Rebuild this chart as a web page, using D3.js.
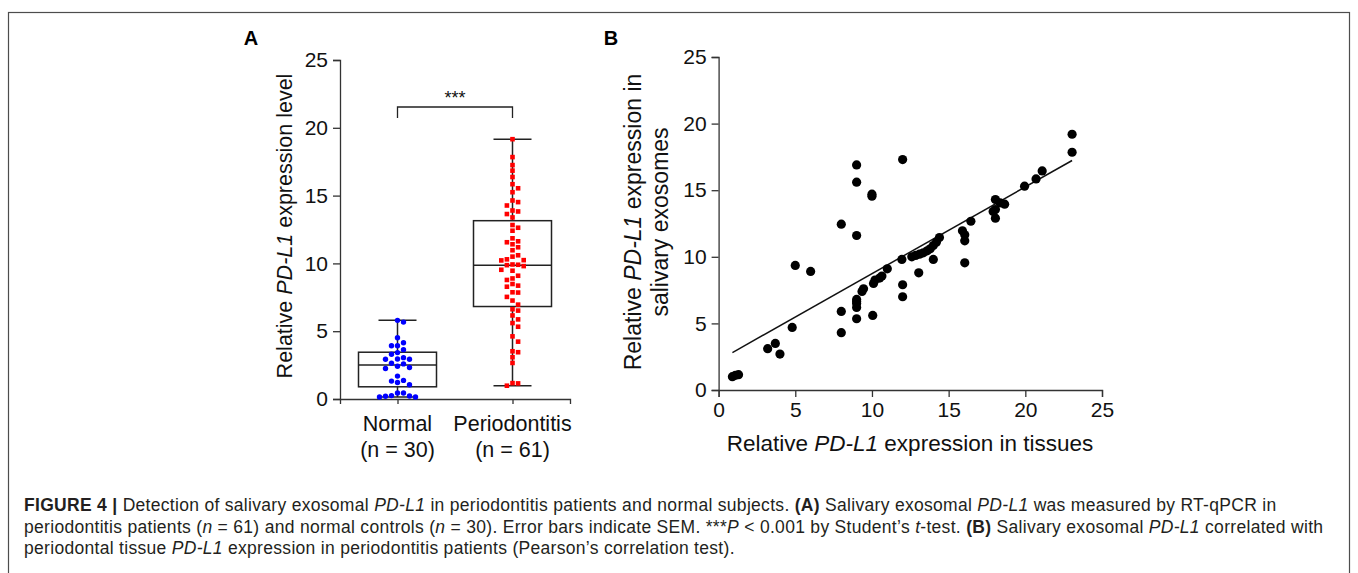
<!DOCTYPE html>
<html lang="en">
<head>
<meta charset="utf-8">
<script src="https://cdn.jsdelivr.net/npm/d3@7"></script>
<style>
  body { margin: 0; background: #fff; }
  text { font-family: "Liberation Sans", Arial, sans-serif; }
</style>
</head>
<body>
<script>
    var w = 1358, h = 573;

    // panel A: salivary exosomal PD-L1, box + points
    var groups = ['Normal', 'Periodontitis'];
    var groupN = ['(n = 30)', '(n = 61)'];
    var normalVals = [5.8, 5.67, 4.52, 4.15, 3.93, 3.93, 3.64, 3.42, 3.3, 3.05, 2.95, 2.93, 2.93,
        2.64, 2.59, 2.42, 2.32, 2.25, 1.69, 1.37, 1.32, 1.22, 1.05, 0.44, 0.44, 0.25, 0.22, 0.15, 0.15, 0.2];
    var perioVals = [19.16, 17.84, 17.25, 16.84, 16.37, 15.84, 15.54, 15.25, 14.64, 14.52, 14.27,
        13.9, 13.83, 13.64, 13.39, 12.83, 12.63, 12.41, 11.85, 11.63, 11.56, 11.41, 11.19, 10.97,
        10.6, 10.5, 10.3, 10.24, 10.22, 9.92, 9.87, 9.8, 9.9, 9.53, 9.46, 9.09, 8.89, 8.78, 8.48,
        8.36, 8.28, 7.87, 7.85, 7.53, 7.26, 6.96, 6.62, 6.52, 6.16, 5.87, 5.6, 5.33, 4.62, 4.23,
        3.52, 3.45, 3.08, 2.66, 1.17, 1.15, 0.98];
    // min, q1, median, q3, max
    var normalBox = [0.15, 0.9, 2.5, 3.45, 5.8];
    var perioBox = [0.98, 6.82, 9.87, 13.15, 19.16];
    var yTicksA = [0, 5, 10, 15, 20, 25];

    // panel B: tissue vs saliva
    var tissue = [0.9, 1.1, 1.3, 3.2, 3.7, 4.0, 4.8, 5.0, 6.0,
        8.0, 8.0, 8.0,
        9.0, 9.0, 9.0, 9.0, 9.0, 9.0, 9.0, 9.0, 9.35, 9.45,
        10.0, 10.0, 10.05, 10.1, 10.2, 10.5, 10.65, 11.0,
        12.0, 11.95, 12.0, 12.0,
        12.6, 12.85, 13.1, 13.35, 13.6, 13.8, 14.0, 14.2, 14.4, 14.0, 13.05,
        15.9, 16.05, 16.05, 16.05, 16.45,
        17.9, 18.05, 18.05, 18.05, 18.35, 18.65,
        19.95, 20.7, 21.1, 23.05, 23.05];
    var saliva = [1.0, 1.1, 1.15, 3.1, 3.5, 2.7, 4.7, 9.35, 8.9,
        12.45, 5.9, 4.3,
        16.9, 15.6, 11.6, 5.35, 6.2, 6.5, 6.65, 6.8, 7.4, 7.6,
        14.7, 14.55, 5.6, 8.0, 8.25, 8.4, 8.55, 9.1,
        17.3, 9.8, 7.9, 7.0,
        10.0, 10.1, 10.2, 10.3, 10.45, 10.6, 10.85, 11.1, 11.45, 9.8, 8.8,
        11.95, 11.65, 11.2, 9.55, 12.67,
        13.4, 13.55, 12.9, 14.3, 14.05, 13.95,
        15.3, 15.85, 16.45, 19.2, 17.85];
    var ticksB = [0, 5, 10, 15, 20, 25];

    var svg = d3.select('body').append('svg').attr('width', w).attr('height', h);

    svg.append('rect')
        .attr('x', 8.5).attr('y', 12.5).attr('width', 1341).attr('height', 600)
        .attr('fill', 'none').attr('stroke', '#4d4d4d').attr('stroke-width', 1.2);

    var axisColor = '#333';
    var axisFont = '21px';

    // ---------- panel A ----------
    var yA = d3.scaleLinear().domain([0, 25]).range([399, 60]);
    var xA = d3.scalePoint().domain(groups).range([340, 570]).padding(0.5);

    var gyA = svg.append('g').attr('transform', 'translate(340,0)')
        .call(d3.axisLeft(yA).tickValues(yTicksA).tickSize(7).tickPadding(5));
    var gxA = svg.append('g').attr('transform', 'translate(0,399)')
        .call(d3.axisBottom(xA).tickSize(5).tickFormat(''));
    [gyA, gxA].forEach(function(g) {
        g.select('.domain').attr('stroke', axisColor).attr('stroke-width', 1.3);
        g.selectAll('.tick line').attr('stroke', axisColor).attr('stroke-width', 1.3);
    });
    gyA.selectAll('.tick text').attr('font-size', axisFont).attr('fill', '#111')
        .attr('font-family', '"Liberation Sans", Arial, sans-serif');

    groups.forEach(function(g, i) {
        svg.append('text').attr('x', xA(g)).attr('y', 431).attr('text-anchor', 'middle')
            .attr('font-size', '21.5px').attr('fill', '#111').text(g);
        svg.append('text').attr('x', xA(g)).attr('y', 457).attr('text-anchor', 'middle')
            .attr('font-size', '21.5px').attr('fill', '#111').text(groupN[i]);
    });

    var titleA = svg.append('text')
        .attr('transform', 'translate(292,226) rotate(-90)')
        .attr('text-anchor', 'middle').attr('font-size', '21.5px').attr('fill', '#111');
    titleA.append('tspan').text('Relative ');
    titleA.append('tspan').attr('font-style', 'italic').text('PD-L1');
    titleA.append('tspan').text(' expression level');

    svg.append('text').attr('x', 251).attr('y', 45).attr('text-anchor', 'middle')
        .attr('font-size', '20px').attr('font-weight', 'bold').text('A');

    function drawBox(stats, cx) {
        var g = svg.append('g').attr('stroke', '#222').attr('stroke-width', 1.5).attr('fill', 'none');
        var bw = 78, cw = 38;
        g.append('line').attr('x1', cx).attr('x2', cx).attr('y1', yA(stats[0])).attr('y2', yA(stats[1]));
        g.append('line').attr('x1', cx).attr('x2', cx).attr('y1', yA(stats[3])).attr('y2', yA(stats[4]));
        g.append('line').attr('x1', cx - cw / 2).attr('x2', cx + cw / 2).attr('y1', yA(stats[0])).attr('y2', yA(stats[0]));
        g.append('line').attr('x1', cx - cw / 2).attr('x2', cx + cw / 2).attr('y1', yA(stats[4])).attr('y2', yA(stats[4]));
        g.append('rect').attr('x', cx - bw / 2).attr('width', bw)
            .attr('y', yA(stats[3])).attr('height', yA(stats[1]) - yA(stats[3]));
        g.append('line').attr('x1', cx - bw / 2).attr('x2', cx + bw / 2).attr('y1', yA(stats[2])).attr('y2', yA(stats[2]));
    }
    drawBox(normalBox, xA('Normal'));
    drawBox(perioBox, xA('Periodontitis'));

    // simple beeswarm so that points don't sit on top of each other
    function swarm(vals, cx, gap) {
        var placed = [];
        vals.slice().sort(function(a, b) { return b - a; }).forEach(function(v) {
            var y = yA(v);
            var offs = [0];
            for (var k = 1; k < 10; k++) { offs.push(k * gap, -k * gap); }
            for (var j = 0; j < offs.length; j++) {
                var x = cx + offs[j];
                var hit = placed.some(function(p) {
                    return Math.hypot(p.x - x, p.y - y) < gap * 0.95;
                });
                if (!hit) { placed.push({x: x, y: y}); break; }
            }
        });
        return placed;
    }

    svg.append('g').selectAll('circle')
        .data(swarm(normalVals, xA('Normal'), 6))
        .enter().append('circle')
        .attr('cx', function(d) { return d.x; })
        .attr('cy', function(d) { return d.y; })
        .attr('r', 2.7).attr('fill', '#0000ff');

    svg.append('g').selectAll('rect')
        .data(swarm(perioVals, xA('Periodontitis'), 5.6))
        .enter().append('rect')
        .attr('x', function(d) { return d.x - 2.3; })
        .attr('y', function(d) { return d.y - 2.3; })
        .attr('width', 4.6).attr('height', 4.6).attr('fill', '#ff0000');

    // significance bracket
    var bY = 107;
    svg.append('path')
        .attr('d', 'M' + xA('Normal') + ',' + (bY + 11) + 'V' + bY + 'H' + xA('Periodontitis') + 'V' + (bY + 11))
        .attr('fill', 'none').attr('stroke', '#222').attr('stroke-width', 1.3);
    svg.append('text').attr('x', (xA('Normal') + xA('Periodontitis')) / 2).attr('y', 104)
        .attr('text-anchor', 'middle').attr('font-size', '18px').attr('fill', '#111').text('***');

    // ---------- panel B ----------
    var xB = d3.scaleLinear().domain([0, 25]).range([718.6, 1102]);
    var yB = d3.scaleLinear().domain([0, 25]).range([390, 57]);

    var gxB = svg.append('g').attr('transform', 'translate(0,390)')
        .call(d3.axisBottom(xB).tickValues(ticksB).tickSize(7).tickPadding(5));
    var gyB = svg.append('g').attr('transform', 'translate(718.6,0)')
        .call(d3.axisLeft(yB).tickValues(ticksB).tickSize(7).tickPadding(5));
    [gxB, gyB].forEach(function(g) {
        g.select('.domain').attr('stroke', axisColor).attr('stroke-width', 1.3);
        g.selectAll('.tick line').attr('stroke', axisColor).attr('stroke-width', 1.3);
        g.selectAll('.tick text').attr('font-size', axisFont).attr('fill', '#111')
            .attr('font-family', '"Liberation Sans", Arial, sans-serif');
    });

    // least squares line over the range of the data
    var pts = tissue.map(function(t, i) { return [t, saliva[i]]; });
    var mx = d3.mean(tissue), my = d3.mean(saliva);
    var sxy = d3.sum(pts, function(p) { return (p[0] - mx) * (p[1] - my); });
    var sxx = d3.sum(tissue, function(t) { return (t - mx) * (t - mx); });
    var slope = sxy / sxx, icpt = my - slope * mx;
    var ext = d3.extent(tissue);
    svg.append('line')
        .attr('x1', xB(ext[0])).attr('y1', yB(icpt + slope * ext[0]))
        .attr('x2', xB(ext[1])).attr('y2', yB(icpt + slope * ext[1]))
        .attr('stroke', '#111').attr('stroke-width', 1.5);

    svg.append('g').selectAll('circle')
        .data(pts).enter().append('circle')
        .attr('cx', function(d) { return xB(d[0]); })
        .attr('cy', function(d) { return yB(d[1]); })
        .attr('r', 4.6).attr('fill', '#000');

    var titleBy1 = svg.append('text').attr('transform', 'translate(641,222) rotate(-90)')
        .attr('text-anchor', 'middle').attr('font-size', '23px').attr('fill', '#111');
    titleBy1.append('tspan').text('Relative ');
    titleBy1.append('tspan').attr('font-style', 'italic').text('PD-L1');
    titleBy1.append('tspan').text(' expression in');
    svg.append('text').attr('transform', 'translate(668,222) rotate(-90)')
        .attr('text-anchor', 'middle').attr('font-size', '23px').attr('fill', '#111')
        .text('salivary exosomes');

    var titleBx = svg.append('text').attr('x', 910).attr('y', 451)
        .attr('text-anchor', 'middle').attr('font-size', '22.5px').attr('fill', '#111');
    titleBx.append('tspan').text('Relative ');
    titleBx.append('tspan').attr('font-style', 'italic').text('PD-L1');
    titleBx.append('tspan').text(' expression in tissues');

    svg.append('text').attr('x', 611).attr('y', 45).attr('text-anchor', 'middle')
        .attr('font-size', '20px').attr('font-weight', 'bold').text('B');

    // ---------- caption ----------
    var caption = [
        [['FIGURE 4 | ', 'b'], ['Detection of salivary exosomal '], ['PD-L1', 'i'],
         [' in periodontitis patients and normal subjects. '], ['(A)', 'b'], [' Salivary exosomal '],
         ['PD-L1', 'i'], [' was measured by RT-qPCR in']],
        [['periodontitis patients ('], ['n', 'i'], [' = 61) and normal controls ('], ['n', 'i'],
         [' = 30). Error bars indicate SEM. ***'], ['P', 'i'], [' < 0.001 by Student\u2019s '], ['t', 'i'],
         ['-test. '], ['(B)', 'b'], [' Salivary exosomal '], ['PD-L1', 'i'], [' correlated with']],
        [['periodontal tissue '], ['PD-L1', 'i'],
         [' expression in periodontitis patients (Pearson\u2019s correlation test).']]
    ];
    caption.forEach(function(line, i) {
        var t = svg.append('text').attr('x', 24).attr('y', 511 + i * 21.5)
            .attr('font-size', '17.5px').attr('letter-spacing', '0.3px').attr('fill', '#231f20');
        line.forEach(function(seg) {
            var s = t.append('tspan').text(seg[0]);
            if (seg[1] === 'b') s.attr('font-weight', 'bold');
            if (seg[1] === 'i') s.attr('font-style', 'italic');
        });
    });
</script>
</body>
</html>
